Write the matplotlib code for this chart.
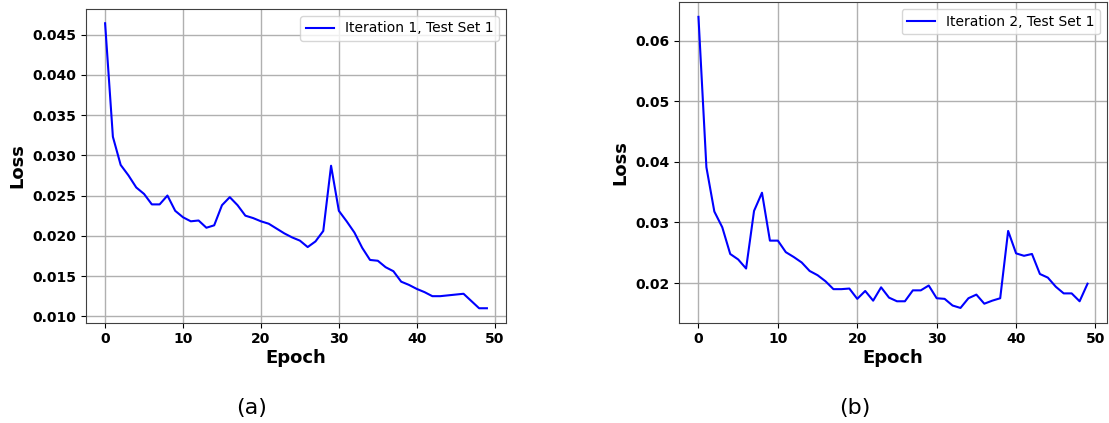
import numpy as np
import matplotlib
matplotlib.use("Agg")
import matplotlib.pyplot as plt

# loss per epoch
epochs = np.arange(50)

loss_iter1 = [
    0.0464, 0.0323, 0.0288, 0.0275, 0.0260, 0.0252, 0.0239, 0.0239, 0.0250, 0.0231,
    0.0223, 0.0218, 0.0219, 0.0210, 0.0213, 0.0238, 0.0248, 0.0238, 0.0225, 0.0222,
    0.0218, 0.0215, 0.0209, 0.0203, 0.0198, 0.0194, 0.0186, 0.0193, 0.0206, 0.0287,
    0.0231, 0.0218, 0.0204, 0.0185, 0.0170, 0.0169, 0.0161, 0.0156, 0.0143, 0.0139,
    0.0134, 0.0130, 0.0125, 0.0125, 0.0126, 0.0127, 0.0128, 0.0119, 0.0110, 0.0110,
]

loss_iter2 = [
    0.0639, 0.0391, 0.0318, 0.0292, 0.0248, 0.0239, 0.0224, 0.0319, 0.0349, 0.0270,
    0.0270, 0.0251, 0.0243, 0.0234, 0.0220, 0.0213, 0.0203, 0.0190, 0.0190, 0.0191,
    0.0174, 0.0187, 0.0171, 0.0193, 0.0176, 0.0170, 0.0170, 0.0188, 0.0188, 0.0196,
    0.0175, 0.0174, 0.0163, 0.0159, 0.0175, 0.0181, 0.0166, 0.0171, 0.0175, 0.0286,
    0.0249, 0.0245, 0.0248, 0.0215, 0.0209, 0.0194, 0.0183, 0.0183, 0.0170, 0.0199,
]

labels = ["Iteration 1, Test Set 1", "Iteration 2, Test Set 1"]
captions = ["(a)", "(b)"]

fig = plt.figure(figsize=(11.09, 4.23), dpi=100)
# axes boxes in figure fractions (left, bottom, width, height)
boxes = [
    (86 / 1109, 1 - 322.5 / 423, (506 - 86) / 1109, (322.5 - 9) / 423),
    (679 / 1109, 1 - 322.5 / 423, (1107 - 679) / 1109, (322.5 - 2.3) / 423),
]
cap_x = [252 / 1109, 855 / 1109]

for box, series, lab, cap, cx in zip(boxes, [loss_iter1, loss_iter2], labels, captions, cap_x):
    ax = fig.add_axes(box)
    ax.plot(epochs, series, color="blue", lw=1.5, label=lab)
    ax.grid(True, color="#b0b0b0", lw=1.0)
    ax.set_axisbelow(True)
    ax.set_xlabel("Epoch", fontsize=13, fontweight="bold", labelpad=2)
    ax.set_ylabel("Loss", fontsize=13, fontweight="bold")
    ax.set_xticks([0, 10, 20, 30, 40, 50])
    for t in ax.get_xticklabels() + ax.get_yticklabels():
        t.set_fontweight("bold")
        t.set_fontsize(10)
    for s in ax.spines.values():
        s.set_color("#404040")
    ax.legend(loc="upper right", fontsize=10)
    fig.text(cx, 0.035, cap, ha="center", va="center", fontsize=16)

fig.savefig("out.png", dpi=100)
